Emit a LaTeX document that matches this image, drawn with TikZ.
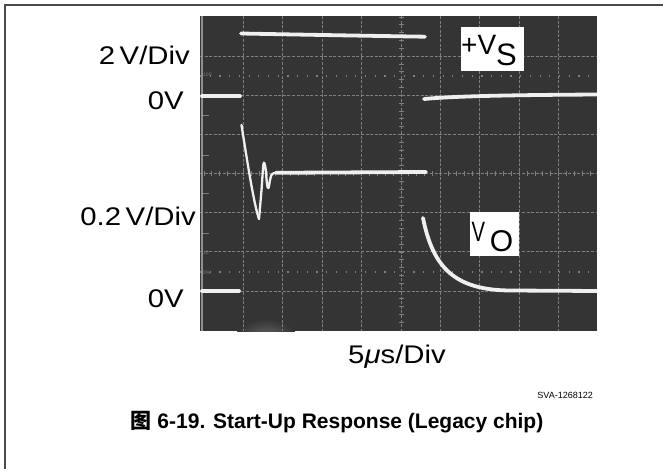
\documentclass[tikz,border=0pt]{standalone}
\usepackage{fontspec}
\setmainfont{Liberation Sans}
\newfontfamily\cjk{Noto Sans CJK SC}
\usepackage{graphicx}
\definecolor{scr}{HTML}{343434}
\definecolor{grd}{HTML}{7E7E7E}
\definecolor{trc}{HTML}{EFEFEF}
\definecolor{frm}{HTML}{4A4A4A}
\newcommand\scopelbl[1]{\scalebox{1.15}[1]{\fontsize{25.5}{28}\selectfont #1}}
\tikzset{
  gridline/.style={grd, line width=0.9pt, dash pattern=on 3pt off 1.6pt},
  dotline/.style={grd, line width=1.2pt, dash pattern=on 1.2pt off 8.5pt},
  trace/.style={trc, line width=3.8pt, line cap=round, line join=round},
  thintrace/.style={trc, line width=2.3pt, line cap=round, line join=round},
  whitebox/.style={fill=white, inner sep=0pt, anchor=north west},
  txt/.style={inner sep=0pt, text=black},
}
\begin{document}
\begin{tikzpicture}[x=1pt,y=-1pt]
\useasboundingbox (0,0) rectangle (663,468);
\fill[white] (0,0) rectangle (663,468);
\draw[frm, line width=1.3pt] (5,470) -- (5,5) -- (665,5);
% screen
\fill[scr] (200,16) rectangle (597,331);
\begin{scope}
\clip (200,16) rectangle (597,331);
\shade[inner color=scr!78!white, outer color=scr] (266,336) ellipse (30 and 17);
% grid
\foreach \i in {1,...,9} \draw[gridline] (204+39.4*\i,16) -- (204+39.4*\i,331);
\foreach \j in {1,...,7} \draw[gridline] (200,17+39.15*\j) -- (597,17+39.15*\j);
\draw[dotline] (200,76) -- (597,76);
\draw[dotline] (200,272) -- (597,272);
% centre ticks
\foreach \k in {0,...,49} \draw[grd, line width=0.8pt] (204+7.88*\k,171) -- (204+7.88*\k,176.2);
\foreach \k in {0,...,39} \draw[grd, line width=0.8pt] (398.5,17+7.83*\k) -- (404,17+7.83*\k);
% left edge
\draw[grd!85!white, line width=1.6pt] (201.8,16) -- (201.8,331);
\foreach \y in {115,155,193,233} \draw[grd, line width=0.8pt] (203,\y) -- (209,\y);
\node[txt, text=grd, anchor=west, font=\fontsize{5}{5}\selectfont] (g100) at (203,75) {100};
\node[txt, text=grd, anchor=west, font=\fontsize{5}{5}\selectfont] (g10) at (203,252.5) {10};
\node[txt, text=grd, anchor=west, font=\fontsize{5}{5}\selectfont] (g0) at (203,272.5) {0\%};
% +Vs trace
\draw[trace] (202,96.3) -- (240,96.3);
\draw[trace] (241,33.5) .. controls (320,35) and (380,36) .. (425,36.7);
\draw[trace] (424,99) .. controls (450,96.5) and (500,95) .. (600,94.5);
% Vo trace
\draw[trace] (202,291) -- (239,291);
\draw[thintrace] (241.5,125) .. controls (247,160) and (254,205) .. (259,219);
\draw[thintrace] plot[smooth, tension=0.6] coordinates {(259,219) (261.5,190) (263.5,164) (265.5,168) (267,184) (268.5,188) (270.5,178) (273,173.5) (282,172)};
\draw[trace] (276,172.8) -- (426,172);
\draw[trace] (423,218) .. controls (433,268) and (455,290) .. (510,290.5) -- (600,291);
\end{scope}
% label boxes on screen
\node[whitebox, minimum width=63pt, minimum height=44pt] (vsbox) at (461,27) {};
\node[txt, anchor=base west] (vs) at (461,55) {\fontsize{28}{28}\selectfont +V\raisebox{-11pt}{\fontsize{31}{31}\selectfont S}};
\node[whitebox, minimum width=49pt, minimum height=44pt] (vobox) at (470,212) {};
\node[txt, anchor=base west] (vo) at (471.3,241.7) {\scalebox{0.72}[1]{\fontsize{28}{28}\selectfont V}\hspace{4.8pt}\raisebox{-10pt}{\fontsize{30}{30}\selectfont O}};
% axis labels
\node[txt, anchor=base east] (vdiv2) at (190,65) {\scopelbl{2\hspace{4pt}V/Div}};
\node[txt, anchor=base east] (zero1) at (184,110) {\scopelbl{0V}};
\node[txt, anchor=base east] (vdiv02) at (196,225) {\scopelbl{0.2\hspace{4pt}V/Div}};
\node[txt, anchor=base east] (zero2) at (184,307) {\scopelbl{0V}};
\node[txt, anchor=base] (tdiv) at (397,363) {\scopelbl{5\textit{μ}s/Div}};
\node[txt, anchor=base east, font=\fontsize{9}{9}\selectfont] (code) at (593,398) {SVA-1268122};
\node[txt, anchor=base, font=\fontsize{21}{21}\selectfont\bfseries] (caption) at (337,428) {{\cjk\bfseries 图} 6-19. Start-Up Response (Legacy chip)};
\end{tikzpicture}
\end{document}
